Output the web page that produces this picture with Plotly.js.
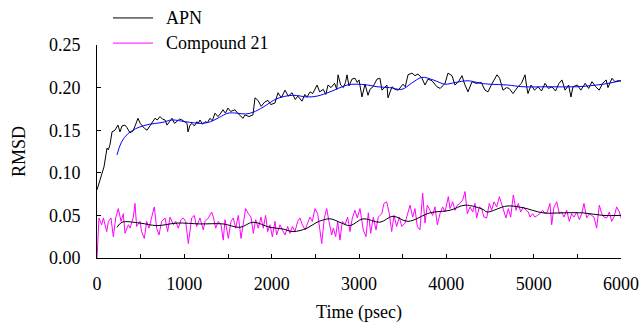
<!DOCTYPE html>
<html>
<head>
<meta charset="utf-8">
<script src="https://cdn.plot.ly/plotly-3.0.1.min.js"></script>
<style>html,body{margin:0;padding:0;background:#fff;}#chart{width:642px;height:323px;}</style>
</head>
<body>
<div id="chart"></div>
<script>
// APN RMSD (raw) — time in psec
const apnTime = [0,80,115,130,149,172,206,240,263,286,320,343,378,412,440,469,495,515,545,573,600,630,664,690,721,750,779,802,830,859,888,916,945,973,1000,1031,1042,1065,1088,1115,1145,1160,1179,1210,1237,1265,1294,1320,1351,1385,1410,1443,1470,1500,1530,1580,1610,1672,1695,1740,1786,1809,1843,1880,1920,1958,1990,2038,2060,2073,2110,2153,2190,2233,2270,2300,2347,2380,2405,2440,2470,2520,2550,2590,2620,2645,2680,2720,2745,2760,2790,2820,2845,2863,2885,2920,2954,2980,3000,3034,3069,3103,3126,3160,3206,3240,3263,3290,3320,3332,3378,3412,3450,3480,3504,3530,3561,3607,3641,3675,3721,3756,3790,3836,3893,3930,3985,4019,4065,4099,4140,4179,4210,4248,4294,4340,4400,4443,4477,4520,4580,4610,4649,4690,4720,4763,4820,4860,4901,4920,4935,4970,5010,5050,5090,5130,5170,5210,5250,5290,5324,5360,5400,5427,5450,5500,5540,5590,5630,5668,5710,5750,5790,5830,5851,5897,5930,5966,6000];
const apnRmsd = [0.080,0.107,0.129,0.127,0.133,0.148,0.150,0.156,0.148,0.155,0.156,0.153,0.147,0.149,0.156,0.164,0.158,0.155,0.152,0.150,0.154,0.158,0.164,0.162,0.166,0.163,0.162,0.156,0.160,0.164,0.158,0.160,0.163,0.162,0.160,0.158,0.148,0.156,0.158,0.155,0.160,0.158,0.162,0.157,0.160,0.159,0.164,0.161,0.170,0.166,0.169,0.174,0.170,0.176,0.172,0.174,0.170,0.164,0.168,0.166,0.168,0.188,0.185,0.178,0.183,0.185,0.180,0.182,0.190,0.194,0.188,0.197,0.190,0.194,0.186,0.190,0.184,0.192,0.189,0.195,0.193,0.203,0.195,0.198,0.192,0.203,0.200,0.205,0.198,0.215,0.203,0.200,0.206,0.215,0.202,0.210,0.211,0.206,0.209,0.189,0.204,0.191,0.198,0.201,0.210,0.211,0.197,0.200,0.203,0.188,0.201,0.198,0.197,0.201,0.204,0.201,0.215,0.217,0.214,0.216,0.211,0.203,0.210,0.208,0.201,0.199,0.205,0.217,0.214,0.203,0.207,0.214,0.204,0.195,0.207,0.205,0.206,0.197,0.195,0.204,0.215,0.211,0.197,0.200,0.199,0.193,0.201,0.205,0.215,0.201,0.193,0.203,0.197,0.201,0.196,0.205,0.199,0.201,0.196,0.205,0.209,0.197,0.203,0.189,0.201,0.203,0.197,0.205,0.199,0.207,0.201,0.197,0.205,0.209,0.200,0.211,0.207,0.208,0.208];

// APN RMSD (running average, blue)
const apnAvgTime = [229,280,355,469,600,744,859,1008,1202,1300,1400,1500,1600,1700,1786,1901,2061,2244,2405,2519,2668,2863,2954,3100,3206,3350,3492,3600,3721,3850,3985,4100,4248,4400,4500,4700,4878,5187,5496,5794,6000];
const apnAvg = [0.121,0.136,0.146,0.153,0.157,0.159,0.162,0.160,0.158,0.160,0.165,0.170,0.170,0.169,0.171,0.177,0.187,0.191,0.189,0.190,0.195,0.203,0.204,0.203,0.201,0.200,0.198,0.205,0.212,0.209,0.204,0.206,0.208,0.205,0.204,0.203,0.201,0.201,0.201,0.204,0.208];

// Compound 21 RMSD (raw)
const cpdTime = [0,23,53,73,111,130,160,187,214,244,275,301,321,359,378,416,435,454,492,511,542,569,595,626,656,683,710,740,779,809,836,874,901,931,962,988,1015,1046,1084,1114,1141,1179,1217,1237,1275,1313,1332,1359,1389,1420,1446,1466,1504,1534,1561,1588,1618,1649,1675,1702,1733,1763,1790,1817,1847,1878,1904,1931,1954,1981,2008,2038,2057,2095,2122,2153,2183,2210,2237,2267,2298,2324,2351,2382,2412,2439,2466,2496,2527,2553,2573,2603,2630,2656,2687,2706,2733,2756,2782,2809,2840,2870,2897,2924,2954,2980,3011,3049,3080,3107,3134,3164,3195,3221,3260,3286,3317,3347,3374,3401,3431,3462,3489,3527,3553,3584,3615,3641,3668,3698,3729,3756,3782,3813,3843,3870,3897,3927,3958,3985,4023,4042,4073,4099,4126,4156,4187,4214,4240,4271,4302,4328,4347,4378,4405,4431,4462,4492,4519,4546,4577,4607,4634,4660,4683,4710,4737,4767,4798,4824,4851,4882,4912,4939,4958,4989,5015,5042,5072,5103,5130,5156,5187,5206,5233,5264,5294,5321,5347,5378,5408,5435,5462,5493,5523,5550,5576,5607,5637,5664,5691,5721,5752,5779,5805,5836,5866,5893,5920,5950,5981,6007];
const cpdRmsd = [0.000,0.047,0.039,0.047,0.031,0.043,0.047,0.025,0.047,0.058,0.043,0.052,0.029,0.039,0.035,0.048,0.064,0.037,0.043,0.031,0.023,0.043,0.035,0.047,0.060,0.035,0.027,0.043,0.047,0.031,0.048,0.039,0.043,0.035,0.045,0.047,0.043,0.017,0.047,0.050,0.037,0.047,0.033,0.043,0.047,0.054,0.048,0.035,0.043,0.039,0.021,0.045,0.023,0.043,0.047,0.035,0.050,0.023,0.043,0.058,0.052,0.048,0.029,0.045,0.035,0.048,0.035,0.050,0.031,0.039,0.025,0.043,0.027,0.039,0.033,0.027,0.037,0.029,0.037,0.031,0.043,0.047,0.039,0.033,0.041,0.048,0.043,0.058,0.052,0.035,0.017,0.047,0.058,0.043,0.027,0.035,0.025,0.043,0.021,0.043,0.039,0.048,0.031,0.047,0.056,0.047,0.058,0.033,0.025,0.053,0.029,0.048,0.033,0.048,0.052,0.064,0.066,0.052,0.031,0.050,0.037,0.048,0.037,0.041,0.052,0.062,0.048,0.058,0.037,0.033,0.076,0.041,0.062,0.056,0.050,0.060,0.039,0.052,0.060,0.054,0.072,0.058,0.066,0.056,0.062,0.064,0.068,0.078,0.052,0.060,0.054,0.064,0.047,0.060,0.058,0.048,0.047,0.064,0.056,0.066,0.060,0.072,0.064,0.056,0.047,0.058,0.048,0.074,0.056,0.064,0.054,0.060,0.056,0.054,0.048,0.052,0.048,0.050,0.052,0.056,0.052,0.054,0.064,0.039,0.060,0.066,0.052,0.054,0.048,0.056,0.043,0.052,0.048,0.054,0.045,0.052,0.064,0.047,0.052,0.050,0.048,0.035,0.062,0.052,0.048,0.047,0.054,0.043,0.048,0.060,0.054,0.045];

// Compound 21 RMSD (running average, black)
const cpdAvgTime = [229,286,492,687,916,1179,1443,1637,1786,1981,2130,2244,2405,2519,2668,2800,2897,3046,3240,3389,3561,3813,4042,4214,4420,4466,4694,4878,5107,5336,5565,5794,6000];
const cpdAvg = [0.036,0.042,0.041,0.038,0.041,0.040,0.040,0.036,0.042,0.036,0.034,0.031,0.035,0.042,0.046,0.041,0.038,0.046,0.042,0.049,0.043,0.053,0.056,0.062,0.057,0.054,0.061,0.059,0.053,0.053,0.053,0.050,0.050];

const seriesNames = ['APN', 'Compound 21'];
const xTickVals = [0,1000,2000,3000,4000,5000,6000];
const yTickVals = [0,0.05,0.10,0.15,0.20,0.25];

const FONT = 'Liberation Serif, Times New Roman, serif';

const traces = [
  {x: cpdTime, y: cpdRmsd, type: 'scatter', mode: 'lines', name: seriesNames[1],
   line: {color: '#ff00ff', width: 1}, showlegend: false},
  {x: cpdAvgTime, y: cpdAvg, type: 'scatter', mode: 'lines', showlegend: false,
   line: {color: '#000000', width: 1, shape: 'spline'}},
  {x: apnTime, y: apnRmsd, type: 'scatter', mode: 'lines', name: seriesNames[0],
   line: {color: '#000000', width: 1}, showlegend: false},
  {x: apnAvgTime, y: apnAvg, type: 'scatter', mode: 'lines', showlegend: false,
   line: {color: '#0000ff', width: 1, shape: 'spline'}}
];

// legend drawn in paper coordinates
const legendItems = [
  {name: seriesNames[0], color: '#000000', y: 1.127},
  {name: seriesNames[1], color: '#ff00ff', y: 1.009}
];
const shapes = legendItems.map(it => ({type: 'line', xref: 'paper', yref: 'paper',
  x0: 0.0305, x1: 0.107, y0: it.y, y1: it.y, line: {color: it.color, width: 1}}));
const annotations = legendItems.map(it => ({xref: 'paper', yref: 'paper', x: 0.128, y: it.y,
  xanchor: 'left', yanchor: 'middle', showarrow: false, text: it.name,
  font: {family: FONT, size: 18, color: '#000'}}));

const layout = {
  width: 642, height: 323,
  margin: {l: 97, r: 21, t: 45, b: 65},
  paper_bgcolor: '#fff', plot_bgcolor: '#fff',
  showlegend: false,
  font: {family: FONT, size: 18, color: '#000'},
  xaxis: {
    range: [0, 6000], tickvals: xTickVals, ticktext: xTickVals.map(String),
    ticks: 'inside', ticklen: 4, tickcolor: '#000', showgrid: false, zeroline: false,
    showline: true, linecolor: '#000', linewidth: 1,
    minor: {dtick: 500, tick0: 0, ticks: 'inside', ticklen: 4, tickcolor: '#000', showgrid: false},
    ticklabelstandoff: 9,
    tickfont: {family: FONT, size: 18},
    title: {text: 'Time (psec)', font: {family: FONT, size: 18}, standoff: 24}
  },
  yaxis: {
    range: [0, 0.25], tickvals: yTickVals, ticktext: yTickVals.map(v => v.toFixed(2)),
    ticks: 'inside', ticklen: 4, tickcolor: '#000', showgrid: false, zeroline: false,
    showline: true, linecolor: '#000', linewidth: 1,
    ticklabelstandoff: 12,
    tickfont: {family: FONT, size: 18},
    title: {text: 'RMSD', font: {family: FONT, size: 18}, standoff: 18}
  },
  shapes: shapes,
  annotations: annotations
};

Plotly.newPlot('chart', traces, layout, {displayModeBar: false, staticPlot: true});
</script>
</body>
</html>
